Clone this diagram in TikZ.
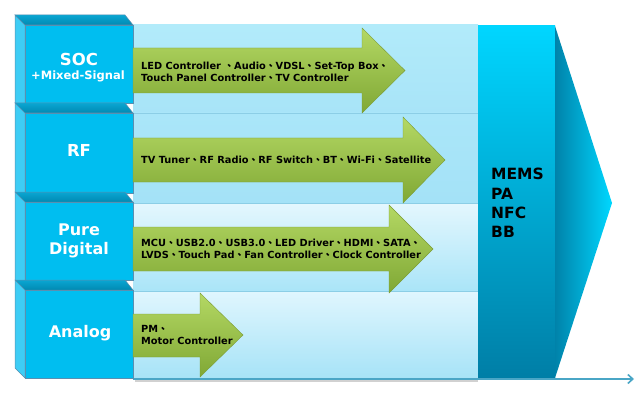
\documentclass[tikz,border=0pt]{standalone}
\usepackage{fontspec}
\setmainfont{DejaVu Sans}
\newfontfamily\cjk{Noto Sans CJK TC}
\usetikzlibrary{arrows.meta}
\newcommand\dsep{{\cjk 、}}
\definecolor{frontc}{HTML}{00BEF0}
\definecolor{sidec}{HTML}{3ECDF5}
\definecolor{bevtop}{HTML}{0AA6D2}
\definecolor{bevbot}{HTML}{0089B2}
\definecolor{edgec}{HTML}{5A8FB0}
\definecolor{greentop}{HTML}{B4D864}
\definecolor{greenbot}{HTML}{80A835}
\definecolor{greenedge}{HTML}{7C9C34}
\definecolor{axisc}{HTML}{4AA6C6}
\tikzset{
  face/.style={fill=frontc,draw=edgec,line width=0.5pt},
  side/.style={fill=sidec,draw=edgec,line width=0.5pt},
  bevel/.style={top color=bevtop,bottom color=bevbot,draw=edgec,line width=0.5pt},
  blocklbl/.style={text=white,font=\bfseries\fontsize{16.5}{19}\selectfont,align=center},
  greenarrow/.style={top color=greentop,bottom color=greenbot,draw=greenedge,line width=0.4pt},
  arrowlbl/.style={anchor=west,align=left,font=\bfseries\fontsize{9.8}{12}\selectfont,inner sep=0pt},
}
\begin{document}
\begin{tikzpicture}[x=1pt,y=-1pt]
\useasboundingbox (0,0) rectangle (640,401);
% shadow under rows
\fill[black!18] (135,379) rectangle (478,382);
% light rows
\shade[top color={rgb,255:red,178;green,235;blue,250}, bottom color={rgb,255:red,168;green,228;blue,248}] (133,25) rectangle (478,113);
\shade[top color={rgb,255:red,170;green,230;blue,249}, bottom color={rgb,255:red,164;green,226;blue,247}] (133,113) rectangle (478,203);
\shade[top color={rgb,255:red,228;green,247;blue,254}, bottom color={rgb,255:red,170;green,229;blue,248}] (133,203) rectangle (478,291);
\shade[top color={rgb,255:red,224;green,246;blue,254}, bottom color={rgb,255:red,166;green,227;blue,247}] (133,291) rectangle (478,379);
\foreach \yy in {113,203,291}{\draw[color={rgb,255:red,140;green,206;blue,230},line width=0.6pt] (133,\yy) -- (478,\yy);}
% MEMS column
\shade[top color={rgb,255:red,0;green,214;blue,255}, bottom color={rgb,255:red,0;green,126;blue,166}] (478,26) rectangle (555,378);
\shade[left color={rgb,255:red,0;green,130;blue,170}, right color={rgb,255:red,0;green,216;blue,255}] (555,26) -- (612,203) -- (555,378) -- cycle;
\node[anchor=north west,align=left,inner sep=0pt,font=\bfseries\fontsize{15.5}{19.3}\selectfont] (mems) at (491,168) {MEMS\\PA\\NFC\\BB};
% axis
\coordinate (axs) at (133,379);
\coordinate (axe) at (634,379);
\draw[axisc,line width=1.6pt,-{Straight Barb[length=5pt,width=9pt]}] (axs) -- (axe);
% left blocks
\draw[side] (15,15) -- (25,25) -- (25,378) -- (15,368) -- cycle;
\foreach \ya/\yb in {15/103,103/193,192/280,280/378}{
  \draw[bevel] (15,\ya) -- (125,\ya) -- (133,\ya+10) -- (25,\ya+10) -- cycle;
  \draw[face] (25,\ya+10) rectangle (133,\yb);
}
\node[blocklbl] (soc) at (79,59) {SOC};
\node[text=white,font=\bfseries\fontsize{11.5}{12}\selectfont] (mixed) at (78,76) {+Mixed-Signal};
\node[blocklbl] (rf) at (79,150) {RF};
\node[blocklbl,font=\bfseries\fontsize{16}{19}\selectfont] (pd) at (79,240.5) {Pure\\Digital};
\node[blocklbl,font=\bfseries\fontsize{16}{19}\selectfont] (an) at (80,333) {Analog};
% green arrows
\draw[greenarrow] (133,48) -- (362,48) -- (362,28) -- (405,70.5) -- (362,113) -- (362,93) -- (133,93) -- cycle;
\draw[greenarrow] (133,138) -- (403,138) -- (403,117) -- (445,160) -- (403,203) -- (403,182) -- (133,182) -- cycle;
\draw[greenarrow] (133,227) -- (389,227) -- (389,205) -- (433,249) -- (389,293) -- (389,271) -- (133,271) -- cycle;
\draw[greenarrow] (133,314) -- (200,314) -- (200,293) -- (243,335) -- (200,377) -- (200,357) -- (133,357) -- cycle;
\node[arrowlbl] (t1) at (141,72) {LED Controller \dsep Audio\dsep VDSL\dsep Set-Top Box\dsep\\Touch Panel Controller\dsep TV Controller};
\node[arrowlbl] (t2) at (141,160) {TV Tuner\dsep RF Radio\dsep RF Switch\dsep BT\dsep Wi-Fi\dsep Satellite};
\node[arrowlbl] (t3) at (141,249) {MCU\dsep USB2.0\dsep USB3.0\dsep LED Driver\dsep HDMI\dsep SATA\dsep\\LVDS\dsep Touch Pad\dsep Fan Controller\dsep Clock Controller};
\node[arrowlbl] (t4) at (141,334.5) {PM\dsep\\Motor Controller};
\end{tikzpicture}
\end{document}
